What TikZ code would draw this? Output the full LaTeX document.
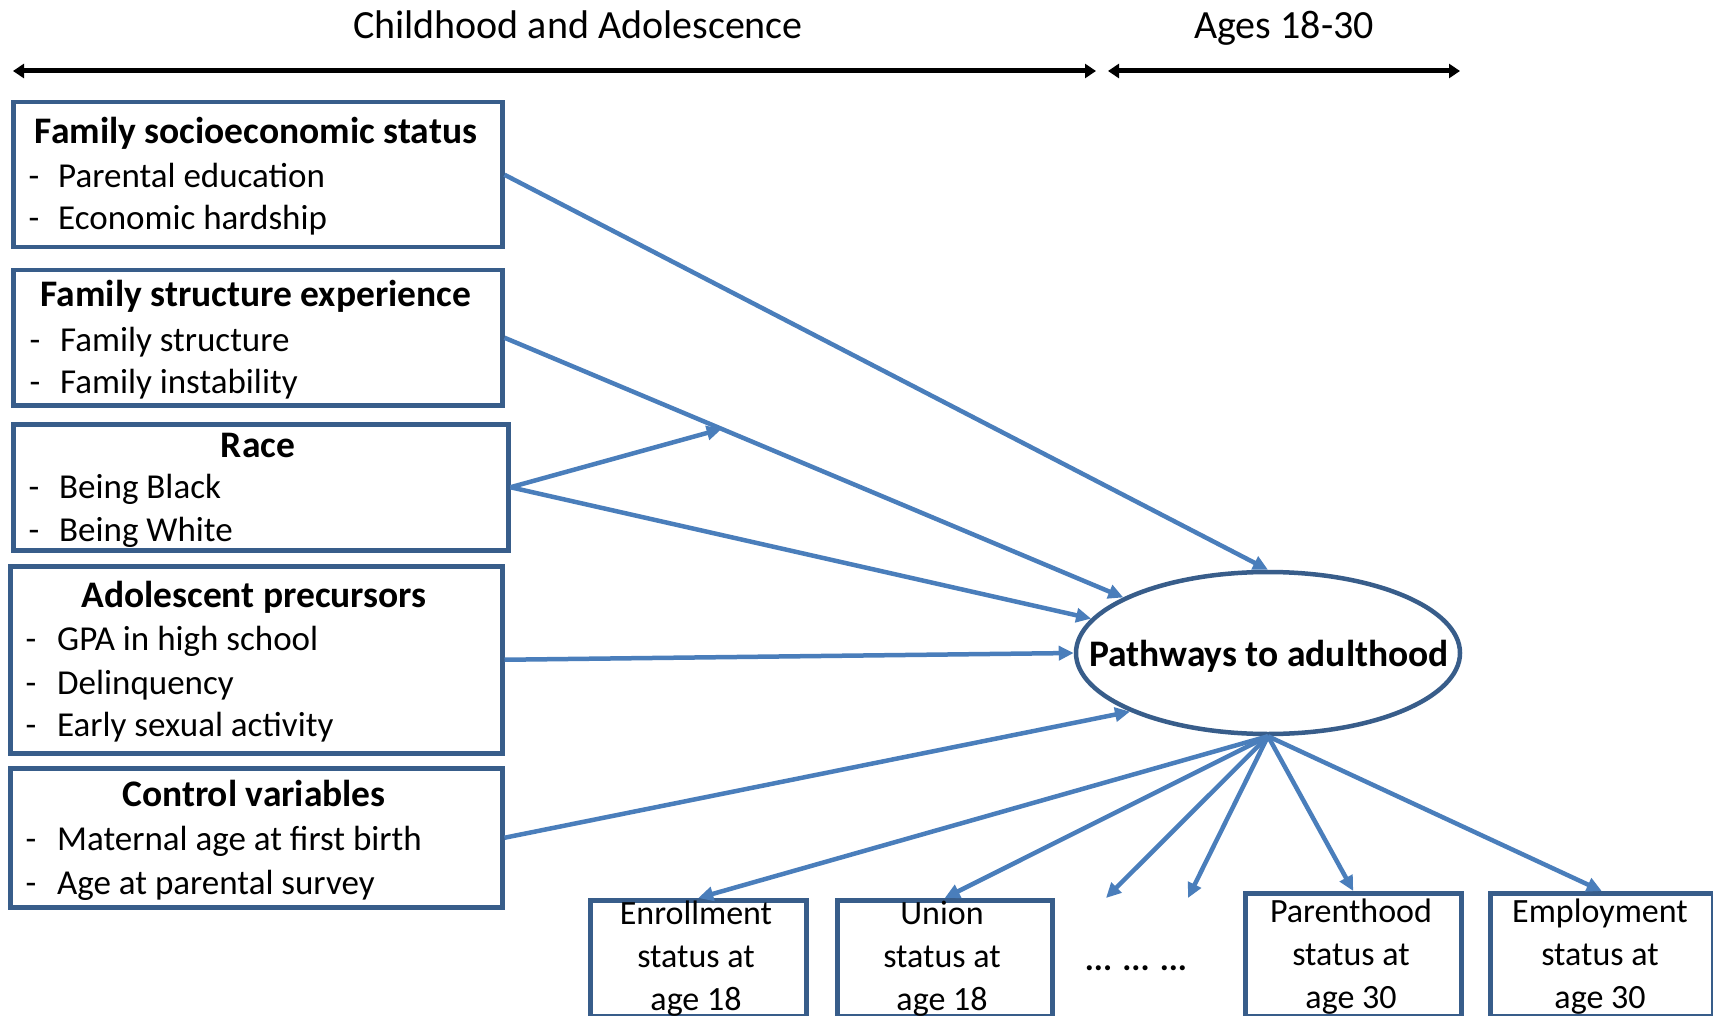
\documentclass[tikz,border=0pt]{standalone}
\usepackage{fontspec}
\setmainfont{Carlito}
\usetikzlibrary{arrows.meta,shapes.geometric}
\definecolor{connc}{RGB}{74,126,187}
\definecolor{boxc}{RGB}{56,93,138}
\begin{document}
\begin{tikzpicture}[x=1pt,y=-1pt,
  box/.style={draw=boxc,line width=4.5pt,rectangle,inner sep=0pt,anchor=north west},
  ttl/.style={font=\fontsize{37.5}{40}\selectfont\bfseries,inner sep=0pt,text height=26pt,text depth=8pt,yshift=-4pt},
  itm/.style={font=\fontsize{35}{40}\selectfont,inner sep=0pt,anchor=west,text height=25pt,text depth=8pt,yshift=-4pt},
  dsh/.style={font=\fontsize{35}{40}\selectfont,inner sep=0pt,text height=25pt,text depth=8pt,yshift=-4pt},
  btxt/.style={font=\fontsize{34}{43}\selectfont,inner sep=0pt,align=center},
  hdr/.style={font=\fontsize{40}{44}\selectfont,inner sep=0pt,text height=29pt,text depth=9pt},
  link/.style={draw=connc,line width=4.5pt,-{Triangle[length=15pt,width=14pt]}},
  span/.style={draw=black,line width=5pt,{Triangle[length=11pt,width=14pt]}-{Triangle[length=11pt,width=14pt]}},
  pwell/.style={ellipse,draw=boxc,line width=4.5pt,minimum width=384pt,minimum height=162pt,inner sep=0pt}
]
\useasboundingbox (0,0) rectangle (1713,1016);
\fill[white] (0,0) rectangle (1713,1016);

% header
\node[hdr] (h1) at (578,29) {Childhood and Adolescence};
\node[hdr] (h2) at (1284,29) {Ages 18-30};
\coordinate (a1) at (13,71);
\coordinate (a2) at (1096,71);
\coordinate (a3) at (1108,71);
\coordinate (a4) at (1460,71);
\draw[span] (a1) -- (a2);
\draw[span] (a3) -- (a4);

% box 1
\node[box,minimum width=489pt,minimum height=145pt] (b1) at (11,100) {};
\node[ttl] (b1t) at (256,131) {Family socioeconomic status};
\node[dsh] (b1d1) at (34,175) {-};
\node[itm] (b1i1) at (58,175) {Parental education};
\node[dsh] (b1d2) at (34,217) {-};
\node[itm] (b1i2) at (58,217) {Economic hardship};

% box 2
\node[box,minimum width=489pt,minimum height=135pt] (b2) at (11,268) {};
\node[ttl] (b2t) at (256,294) {Family structure experience};
\node[dsh] (b2d1) at (35,339) {-};
\node[itm] (b2i1) at (60,339) {Family structure};
\node[dsh] (b2d2) at (35,381) {-};
\node[itm] (b2i2) at (60,381) {Family instability};

% box 3
\node[box,minimum width=495pt,minimum height=126pt] (b3) at (11,422) {};
\node[ttl] (b3t) at (258,444) {Race};
\node[dsh] (b3d1) at (34,486) {-};
\node[itm] (b3i1) at (59,486) {Being Black};
\node[dsh] (b3d2) at (34,529) {-};
\node[itm] (b3i2) at (59,529) {Being White};

% box 4
\node[box,minimum width=492pt,minimum height=187pt] (b4) at (8,564) {};
\node[ttl] (b4t) at (254,594) {Adolescent precursors};
\node[dsh] (b4d1) at (31,638) {-};
\node[itm] (b4i1) at (57,638) {GPA in high school};
\node[dsh] (b4d2) at (31,682) {-};
\node[itm] (b4i2) at (57,682) {Delinquency};
\node[dsh] (b4d3) at (31,724) {-};
\node[itm] (b4i3) at (57,724) {Early sexual activity};

% box 5
\node[box,minimum width=492pt,minimum height=139pt] (b5) at (8,766) {};
\node[ttl] (b5t) at (254,793) {Control variables};
\node[dsh] (b5d1) at (31,838) {-};
\node[itm] (b5i1) at (57,838) {Maternal age at first birth};
\node[dsh] (b5d2) at (31,882) {-};
\node[itm] (b5i2) at (57,882) {Age at parental survey};

% ellipse
\node[pwell] (pw) at (1268,653) {};
\node[ttl] (pwt) at (1269,653) {Pathways to adulthood};

% bottom boxes
\node[box,minimum width=216pt,minimum height=116pt] (enr) at (588,898) {};
\node[btxt] (enrt) at (696,959) {Enrollment\\status at\\age 18};
\node[box,minimum width=215pt,minimum height=116pt] (uni) at (835,898) {};
\node[btxt] (unit) at (942,959) {Union\\status at\\age 18};
\node[box,minimum width=216pt,minimum height=123pt] (par) at (1243,891) {};
\node[btxt] (part) at (1351,957) {Parenthood\\status at\\age 30};
\node[box,minimum width=223pt,minimum height=123pt] (emp) at (1488,891) {};
\node[btxt] (empt) at (1600,957) {Employment\\status at\\age 30};
\node[font=\fontsize{34}{40}\selectfont\bfseries,inner sep=0pt] (dots) at (1136,968) {... ... ...};
\coordinate (f1) at (1106,898);
\coordinate (f2) at (1188,898);

% connectors
\draw[link] (b1.east) -- (pw.north);
\draw[link] (b2.east) -- coordinate[pos=0.351] (mod) (pw.159);
\draw[link] (b3.east) -- (mod);
\draw[link] (b3.east) -- (pw.169);
\draw[link] (b4.east) -- (pw.west);
\draw[link] (b5.east) -- (pw.203);
\draw[link] (pw.south) -- (enr.north);
\draw[link] (pw.south) -- (uni.north);
\draw[link] (pw.south) -- (f1);
\draw[link] (pw.south) -- (f2);
\draw[link] (pw.south) -- (par.north);
\draw[link] (pw.south) -- (emp.north);
\end{tikzpicture}
\end{document}
